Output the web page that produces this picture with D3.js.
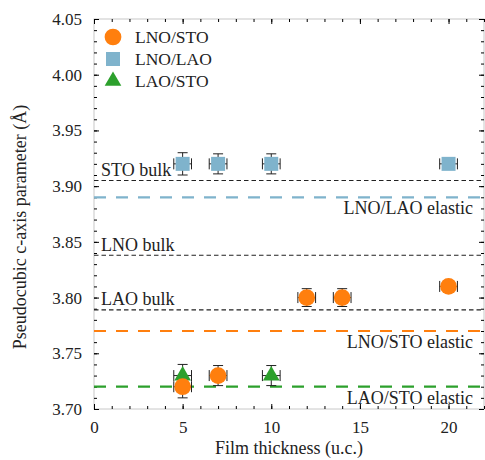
<!DOCTYPE html>
<html>
<head>
<meta charset="utf-8">
<title>Pseudocubic c-axis parameter</title>
<script src="https://cdn.jsdelivr.net/npm/d3@7"></script>
<style>
  body { margin: 0; background: #fff; }
  text { font-family: "Liberation Serif", "DejaVu Serif", serif; fill: #222; }
</style>
</head>
<body>
<script>
  // data
  var stoThick = [5, 7, 12, 14, 20];
  var stoC     = [3.72, 3.73, 3.80, 3.80, 3.81];
  var stoErr   = [0.01, 0.009, 0.008, 0.008, 0.005];

  var laoThick = [5, 7, 10, 20];
  var laoC     = [3.92, 3.92, 3.92, 3.92];
  var laoErr   = [0.01, 0.009, 0.009, 0.005];

  var lsThick = [5, 10];
  var lsC     = [3.73, 3.73];
  var lsErr   = [0.01, 0.009];

  var thickErr = 0.5;

  var refNames  = ["STO bulk", "LNO/LAO elastic", "LNO bulk", "LAO bulk", "LNO/STO elastic", "LAO/STO elastic"];
  var refValues = [3.905, 3.89, 3.838, 3.789, 3.77, 3.72];
  var refColors = ["#333", "#7fb3cc", "#333", "#333", "#ff7f0e", "#2ca02c"];

  var seriesNames = ["LNO/STO", "LNO/LAO", "LAO/STO"];
  var seriesColors = ["#ff7f0e", "#7fb3cc", "#2ca02c"];

  var xTicks = [0, 5, 10, 15, 20];
  var yTicks = [3.70, 3.75, 3.80, 3.85, 3.90, 3.95, 4.00, 4.05];

  // layout
  var width = 485, height = 460;
  var margin = {top: 19, right: 1, bottom: 51, left: 94};
  var w = width - margin.left - margin.right;
  var h = height - margin.top - margin.bottom;

  var x = d3.scaleLinear().domain([0, 22]).range([0, w]);
  var y = d3.scaleLinear().domain([3.70, 4.05]).range([h, 0]);

  var svg = d3.select("body").append("svg")
    .attr("width", width)
    .attr("height", height);

  var g = svg.append("g")
    .attr("transform", "translate(" + margin.left + "," + margin.top + ")");

  // frame
  g.append("rect")
    .attr("width", w).attr("height", h)
    .attr("fill", "none").attr("stroke", "#c8c8c8").attr("stroke-width", 1);

  // minor / major ticks on all sides, pointing inward
  var xMinor = d3.range(0, 23, 1);
  var yMinor = d3.range(0, 36).map(function (i) { return 3.70 + i * 0.01; });

  var axBottom = g.append("g").attr("transform", "translate(0," + h + ")");
  axBottom.call(d3.axisBottom(x).tickValues(xMinor).tickSize(-3).tickFormat(""));
  var axBottomMaj = g.append("g").attr("transform", "translate(0," + h + ")");
  axBottomMaj.call(d3.axisBottom(x).tickValues(xTicks).tickSize(-5).tickPadding(12).tickFormat(d3.format("d")));

  var axTop = g.append("g");
  axTop.call(d3.axisTop(x).tickValues(xMinor).tickSize(-3).tickFormat(""));
  var axTopMaj = g.append("g");
  axTopMaj.call(d3.axisTop(x).tickValues(xTicks).tickSize(-5).tickFormat(""));

  var axLeft = g.append("g");
  axLeft.call(d3.axisLeft(y).tickValues(yMinor).tickSize(-3).tickFormat(""));
  var axLeftMaj = g.append("g");
  axLeftMaj.call(d3.axisLeft(y).tickValues(yTicks).tickSize(-5).tickPadding(12).tickFormat(d3.format(".2f")));

  var axRight = g.append("g").attr("transform", "translate(" + w + ",0)");
  axRight.call(d3.axisRight(y).tickValues(yMinor).tickSize(-3).tickFormat(""));
  var axRightMaj = g.append("g").attr("transform", "translate(" + w + ",0)");
  axRightMaj.call(d3.axisRight(y).tickValues(yTicks).tickSize(-5).tickFormat(""));

  [axBottom, axBottomMaj, axTop, axTopMaj, axLeft, axLeftMaj, axRight, axRightMaj].forEach(function (s) {
    s.select(".domain").remove();
    s.selectAll("line").attr("stroke", "#000").attr("stroke-width", 1);
    s.selectAll("text").style("font-size", "17px").attr("fill", "#222")
      .style("font-family", "'Liberation Serif', serif");
  });

  // reference lines
  refValues.forEach(function (v, i) {
    var thick = refColors[i] !== "#333";
    g.append("line")
      .attr("x1", 0).attr("x2", w)
      .attr("y1", y(v)).attr("y2", y(v))
      .attr("stroke", thick ? refColors[i] : "#222")
      .attr("stroke-width", thick ? 2.2 : 1.1)
      .attr("stroke-dasharray", thick ? "12,10" : "4.5,3");
    if (thick) {
      g.append("text")
        .attr("x", w - 11).attr("y", y(v) + 17)
        .attr("text-anchor", "end")
        .style("font-size", "18px")
        .text(refNames[i]);
    } else {
      g.append("text")
        .attr("x", 7).attr("y", y(v) - 4.5)
        .style("font-size", "18px")
        .text(refNames[i]);
    }
  });

  // error bars
  function errorBars(xs, ys, errs) {
    var eg = g.append("g").attr("stroke", "#222").attr("stroke-width", 1).attr("fill", "none");
    xs.forEach(function (xv, i) {
      var cx = x(xv), cy = y(ys[i]);
      var x0 = x(xv - thickErr), x1 = x(xv + thickErr);
      var y0 = y(ys[i] - errs[i]), y1 = y(ys[i] + errs[i]);
      eg.append("line").attr("x1", x0).attr("x2", x1).attr("y1", cy).attr("y2", cy);
      eg.append("line").attr("x1", x0).attr("x2", x0).attr("y1", cy - 5.5).attr("y2", cy + 5.5);
      eg.append("line").attr("x1", x1).attr("x2", x1).attr("y1", cy - 5.5).attr("y2", cy + 5.5);
      eg.append("line").attr("x1", cx).attr("x2", cx).attr("y1", y0).attr("y2", y1);
      eg.append("line").attr("x1", cx - 5).attr("x2", cx + 5).attr("y1", y0).attr("y2", y0);
      eg.append("line").attr("x1", cx - 5).attr("x2", cx + 5).attr("y1", y1).attr("y2", y1);
    });
  }
  errorBars(laoThick, laoC, laoErr);
  errorBars(lsThick, lsC, lsErr);
  errorBars(stoThick, stoC, stoErr);

  var circle = d3.symbol().type(d3.symbolCircle).size(220);
  var square = d3.symbol().type(d3.symbolSquare).size(196);
  var triangle = d3.symbol().type(d3.symbolTriangle).size(120);

  function markers(xs, ys, sym, color) {
    g.append("g").selectAll("path")
      .data(xs)
      .enter().append("path")
      .attr("d", sym)
      .attr("fill", color)
      .attr("transform", function (d, i) { return "translate(" + x(d) + "," + y(ys[i]) + ")"; });
  }
  markers(laoThick, laoC, square, seriesColors[1]);
  markers(lsThick, lsC, triangle, seriesColors[2]);
  markers(stoThick, stoC, circle, seriesColors[0]);

  // legend
  var legendSyms = [circle, square, triangle];
  var legend = svg.append("g").attr("transform", "translate(113,37)");
  seriesNames.forEach(function (name, i) {
    legend.append("path")
      .attr("d", legendSyms[i])
      .attr("fill", seriesColors[i])
      .attr("transform", "translate(0," + (i * 22) + ")");
    legend.append("text")
      .attr("x", 22).attr("y", i * 22 + 6)
      .style("font-size", "17.5px")
      .text(name);
  });

  // axis titles
  svg.append("text")
    .attr("x", margin.left + w / 2).attr("y", 454)
    .attr("text-anchor", "middle")
    .style("font-size", "18px")
    .text("Film thickness (u.c.)");

  svg.append("text")
    .attr("transform", "translate(26,227) rotate(-90)")
    .attr("text-anchor", "middle")
    .style("font-size", "18px")
    .text("Pseudocubic c-axis parameter (Å)");
</script>
</body>
</html>
